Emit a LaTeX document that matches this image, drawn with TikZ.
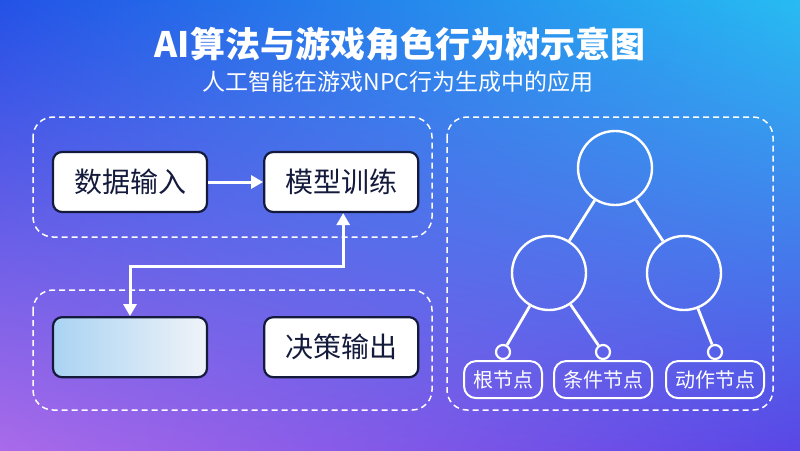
\documentclass[tikz,border=0pt]{standalone}
\usepackage{fontspec}
\setmainfont{Noto Sans CJK SC}
\usetikzlibrary{arrows.meta, positioning, calc, shadings}
\definecolor{bgtopleft}{HTML}{2352E6}
\definecolor{bgtopright}{HTML}{27BCF2}
\definecolor{bgbottomleft}{HTML}{A96AE9}
\definecolor{bgbottomright}{HTML}{5A46E6}
\definecolor{boxline}{HTML}{141A3C}
\definecolor{blurblue}{HTML}{A9D3F3}
\definecolor{blurwhite}{HTML}{F0F3F8}
\tikzstyle{region} = [draw=white, dash pattern=on 6pt off 4pt, line width=1.5pt, rounded corners=20pt]
\tikzstyle{stage} = [rectangle, rounded corners=9pt, minimum width=154pt, minimum height=60pt, draw=boxline, line width=2.2pt, fill=white, text=boxline, font=\fontsize{28}{32}\selectfont]
\tikzstyle{treenode} = [circle, draw=white, line width=2.4pt, minimum size=74pt, inner sep=0pt]
\tikzstyle{leafdot} = [circle, draw=white, line width=2.2pt, minimum size=14pt, inner sep=0pt]
\tikzstyle{leaf} = [rectangle, rounded corners=12pt, draw=white, line width=2pt, minimum height=37pt, inner xsep=9pt, text=white, font=\fontsize{20}{24}\selectfont]
\tikzstyle{link} = [line width=2.8pt, draw=white]
\tikzstyle{arrow} = [line width=3pt, draw=white, -{Triangle[length=12pt, width=13pt]}]

\begin{document}
\begin{tikzpicture}[x=1pt, y=-1pt, node distance=55pt]
    \useasboundingbox (0,0) rectangle (800,450);
    \shade[upper left=bgtopleft, upper right=bgtopright, lower left=bgbottomleft, lower right=bgbottomright] (0,0) rectangle (800,450);

    \node[text=white, font=\bfseries\fontsize{35}{40}\selectfont] (title) at (400,44) {AI算法与游戏角色行为树示意图};
    \node[text=white, font=\fontsize{23}{27}\selectfont] (subtitle) at (398,82) {人工智能在游戏NPC行为生成中的应用};

    % pipeline
    \draw[region] (33,117) rectangle (432,237);
    \draw[region] (33,290) rectangle (432,410);
    \node[stage] (input) at (130,182) {数据输入};
    \node[stage, right=of input] (train) {模型训练};
    \node[stage, below=103pt of input, fill=none, left color=blurblue, right color=blurwhite] (blur) {};
    \node[stage, right=of blur] (output) {决策输出};

    \draw[arrow] (input) -- (train);
    \draw[arrow, {Triangle[length=12pt, width=13pt]}-{Triangle[length=12pt, width=13pt]}] (blur.north) -- ++(0,-50) -| ($(train.south)+(2,0)$);

    % behaviour tree
    \draw[region] (447,117) rectangle (773,410);
    \node[treenode] (root) at (615,168) {};
    \node[treenode] (left) at (549,273) {};
    \node[treenode] (right) at (684,273) {};
    \node[leafdot] (dotroot) at (503,352) {};
    \node[leafdot] (dotcond) at (603,352) {};
    \node[leafdot] (dotact) at (715,352) {};
    \node[leaf, below=0pt of dotroot] (rootlabel) {根节点};
    \node[leaf, below=0pt of dotcond] (condlabel) {条件节点};
    \node[leaf, below=0pt of dotact] (actlabel) {动作节点};

    \draw[link] (root) -- (left);
    \draw[link] (root) -- (right);
    \draw[link] (left) -- (dotroot);
    \draw[link] (left) -- (dotcond);
    \draw[link] (right) -- (dotact);
\end{tikzpicture}
\end{document}
